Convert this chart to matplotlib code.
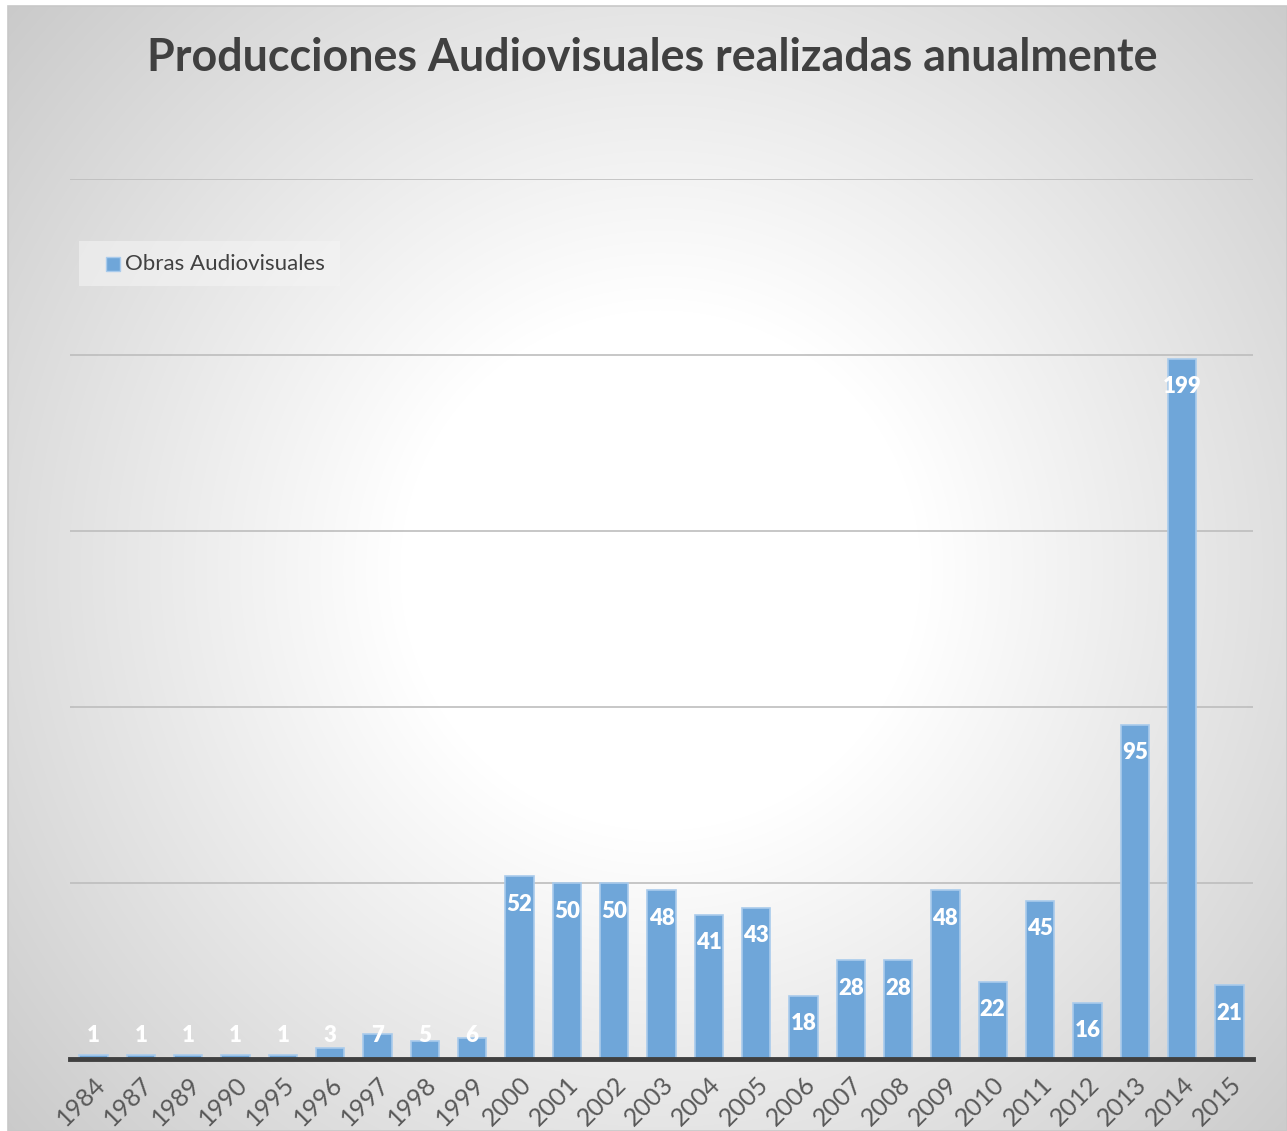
import numpy as np
import matplotlib
matplotlib.use("Agg")
import matplotlib.pyplot as plt
from matplotlib.patches import Rectangle

# Data
years = ["1984", "1987", "1989", "1990", "1995", "1996", "1997", "1998", "1999",
         "2000", "2001", "2002", "2003", "2004", "2005", "2006", "2007", "2008",
         "2009", "2010", "2011", "2012", "2013", "2014", "2015"]
obras = [1, 1, 1, 1, 1, 3, 7, 5, 6, 52, 50, 50, 48, 41, 43, 18, 28, 28,
         48, 22, 45, 16, 95, 199, 21]
series_name = "Obras Audiovisuales"
title = "Producciones Audiovisuales realizadas anualmente"

plt.rcParams['font.family'] = ['Lato', 'DejaVu Sans']

W, H = 1287, 1131
fig = plt.figure(figsize=(W / 100, H / 100), dpi=100)

# radial gradient background (Excel style), pixel coords
bg = fig.add_axes([0, 0, 1, 1], zorder=0)
yy, xx = np.mgrid[0:H, 0:W]
r = np.hypot(xx - 660, yy - 570)
v = 1 - 0.22 * np.clip((r - 260) / 640, 0, 1)
img = np.dstack([v, v, v])
img[:6, :, :] = 1
img[:, :8, :] = 1
bg.imshow(img, extent=[0, W, H, 0], aspect='auto', interpolation='bilinear')
bg.add_patch(Rectangle((8, 6), W - 8, H - 6, fill=False, edgecolor='#c8c8c8', lw=1.2))

# legend box, drawn by hand so it sits like the Excel one
bg.add_patch(Rectangle((79, 241), 261, 45, facecolor='#f4f4f4', alpha=0.6, edgecolor='none'))
bg.add_patch(Rectangle((106, 257), 14, 14, facecolor='#6fa6d9', edgecolor='#a9cbec', lw=1))
bg.text(125, 264, series_name, ha='left', va='center', fontsize=16, color='#404040')
bg.set_xlim(0, W)
bg.set_ylim(H, 0)
bg.axis('off')

ax = fig.add_axes([70 / W, 1 - 1059 / H, 1183 / W, 880 / H], zorder=1)
ax.patch.set_alpha(0)

x = np.arange(len(years))
ax.bar(x, obras, width=0.6, color='#6fa6d9', edgecolor='#a9cbec', linewidth=1.2, zorder=2)

for xi, val in zip(x, obras):
    ax.text(xi, max(val - 8, 6.8), str(val), ha='center', va='center',
            color='white', fontsize=16, fontweight='heavy', zorder=3)

ax.set_xlim(-0.5, len(years) - 0.5)
ax.set_ylim(0, 250)
ax.set_yticks([50, 100, 150, 200, 250])
ax.yaxis.grid(True, color='#bdbdbd', linewidth=1.2, zorder=1)
ax.set_axisbelow(True)
ax.tick_params(axis='y', length=0, labelleft=False)
ax.set_xticks(x)
ax.set_xticklabels(years, rotation=45, ha='right', rotation_mode='anchor',
                   fontsize=18, color='#595959')
ax.tick_params(axis='x', length=0, pad=10)
for s in ['top', 'right', 'left']:
    ax.spines[s].set_visible(False)
ax.spines['bottom'].set_color('#404040')
ax.spines['bottom'].set_linewidth(3.5)

fig.text(652 / W, 1 - 58 / H, title, ha='center', va='center', fontsize=32.3,
         fontweight='bold', color='#404040')

fig.savefig('out.png', dpi=100)
